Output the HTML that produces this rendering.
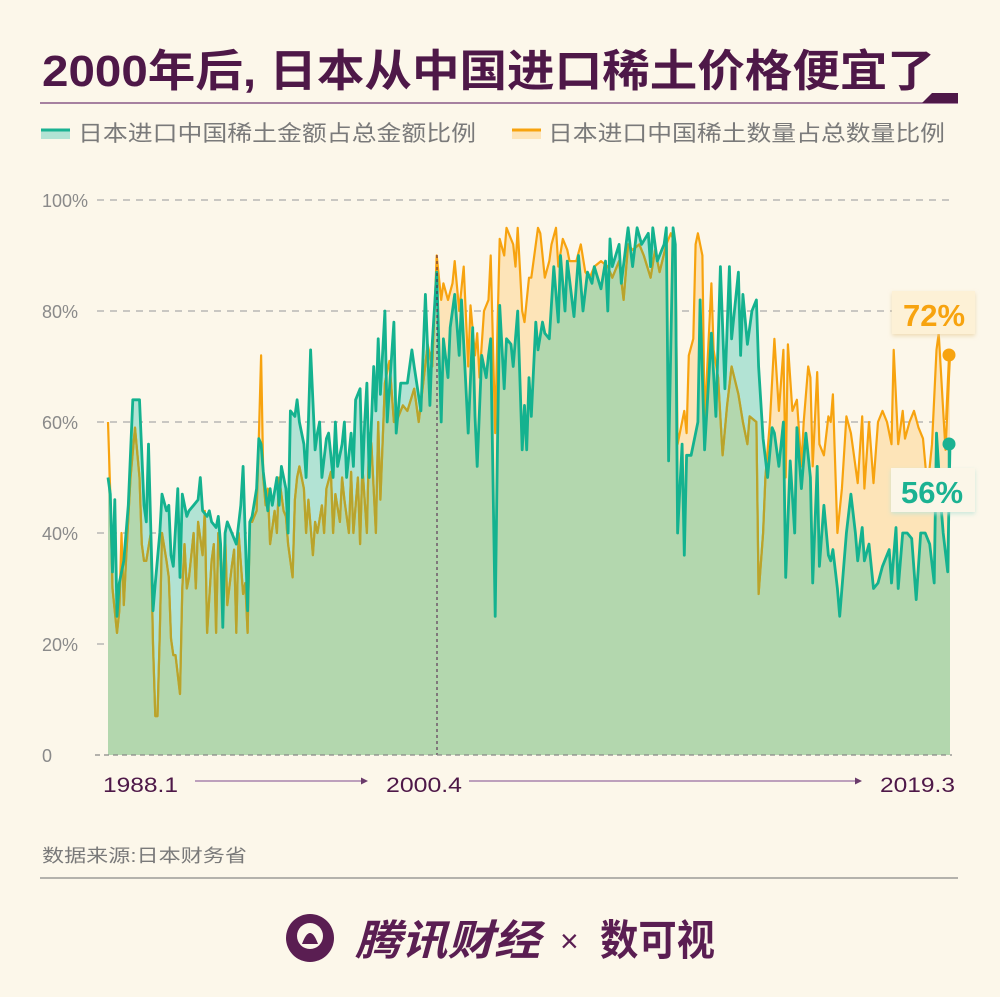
<!DOCTYPE html>
<html><head><meta charset="utf-8"><style>
html,body{margin:0;padding:0;background:#fcf7ea;}
svg{display:block;font-family:"Liberation Sans","Noto Sans CJK SC",sans-serif;}
</style></head><body>
<svg id="chart" width="1000" height="997" viewBox="0 0 1000 997" xmlns="http://www.w3.org/2000/svg">
<defs>
<filter id="sh" x="-20%" y="-20%" width="140%" height="150%"><feDropShadow dx="0" dy="2" stdDeviation="2" flood-color="#e8cf9c" flood-opacity="0.7"/></filter>
<filter id="sh2" x="-20%" y="-20%" width="140%" height="150%"><feDropShadow dx="0" dy="2" stdDeviation="2" flood-color="#bfe4d8" flood-opacity="0.8"/></filter>
</defs>
<rect width="1000" height="997" fill="#fcf7ea"/>
<text x="42" y="86" font-size="44" font-weight="bold" fill="#4e1848" textLength="893" lengthAdjust="spacingAndGlyphs">2000年后, 日本从中国进口稀土价格便宜了</text>
<line x1="40" y1="103" x2="958" y2="103" stroke="#8a5a88" stroke-width="1.5"/>
<polygon points="922,103 932,93 958,93 958,103" fill="#4e1848"/>
<g>
<rect x="41" y="130" width="29" height="9" fill="#b2e3d4"/><line x1="41" y1="130" x2="70" y2="130" stroke="#1bb292" stroke-width="3"/>
<text x="78" y="141" font-size="22" fill="#7a7a7a" textLength="398" lengthAdjust="spacingAndGlyphs">日本进口中国稀土金额占总金额比例</text>
</g>
<g>
<rect x="512" y="130" width="29" height="9" fill="#fde4b8"/><line x1="512" y1="130" x2="541" y2="130" stroke="#f7a30f" stroke-width="3"/>
<text x="548" y="141" font-size="22" fill="#7a7a7a" textLength="397" lengthAdjust="spacingAndGlyphs">日本进口中国稀土数量占总数量比例</text>
</g>
<g id="grid"></g>
<g id="areas"></g>
<g id="lines"></g>
<line x1="437" y1="255" x2="437" y2="755" stroke="#4e1848" stroke-width="1" stroke-dasharray="3,3"/>
<line x1="95" y1="755" x2="952" y2="755" stroke="#888" stroke-width="1.2" stroke-dasharray="5,4"/>
<g id="labels"></g>
<g>
<text x="103" y="792" font-size="21" fill="#4e1848" textLength="75" lengthAdjust="spacingAndGlyphs">1988.1</text>
<line x1="195" y1="781" x2="364" y2="781" stroke="#a884ad" stroke-width="1.5"/>
<polygon points="368,781 361,777.5 361,784.5" fill="#6a3a6a"/>
<text x="386" y="792" font-size="21" fill="#4e1848" textLength="76" lengthAdjust="spacingAndGlyphs">2000.4</text>
<line x1="469" y1="781" x2="858" y2="781" stroke="#a884ad" stroke-width="1.5"/>
<polygon points="862,781 855,777.5 855,784.5" fill="#6a3a6a"/>
<text x="880" y="792" font-size="21" fill="#4e1848" textLength="75" lengthAdjust="spacingAndGlyphs">2019.3</text>
</g>
<text x="42" y="862" font-size="18" fill="#7a7a7a" textLength="205" lengthAdjust="spacingAndGlyphs">数据来源:日本财务省</text>
<line x1="40" y1="878" x2="958" y2="878" stroke="#888" stroke-width="1.2"/>
<g>
<circle cx="310" cy="938" r="24" fill="#5a1e52"/>
<circle cx="310" cy="936" r="13" fill="#fcf7ea"/>
<path d="M302 944 Q310 922 318 944 Z" fill="#5a1e52"/>
<text x="355" y="955" font-size="42" font-weight="bold" font-style="italic" fill="#5a1e52" textLength="185" lengthAdjust="spacingAndGlyphs">腾讯财经</text>
<text x="560" y="952" font-size="32" fill="#5a1e52">×</text>
<text x="600" y="955" font-size="42" font-weight="bold" fill="#5a1e52" textLength="115" lengthAdjust="spacingAndGlyphs">数可视</text>
</g>
<g>
<line x1="949" y1="355" x2="946" y2="420" stroke="#f7a30f" stroke-width="2"/>
<circle cx="949" cy="355" r="6.5" fill="#f7a30f"/>
<rect x="892" y="291" width="83" height="43" fill="#fdf1d6" filter="url(#sh)"/>
<text x="934" y="326" font-size="31" font-weight="bold" fill="#f7a30f" text-anchor="middle">72%</text>
</g>
<g>
<line x1="949" y1="444" x2="949" y2="480" stroke="#1bb292" stroke-width="2.5"/>
<circle cx="949" cy="444" r="6.5" fill="#1bb292"/>
<rect x="891" y="468" width="84" height="44" fill="#fbf6e8" filter="url(#sh2)"/>
<text x="932" y="503" font-size="31" font-weight="bold" fill="#1bb292" text-anchor="middle">56%</text>
</g>
</svg>
<script>
// months since 1988.1 (index 0) and shares (%)
const amountMonths=[0,1,2,3,4,5,7,9,11,14,16,17,18,20,21,23,24,26,27,28,29,31,32,33,35,36,38,40,41,42,44,45,46,48,49,50,51,52,53,55,57,59,60,62,63,64,66,67,68,69,71,72,73,75,76,77,79,80,81,83,84,85,87,88,89,90,92,93,94,95,97,98,100,101,102,104,105,106,108,109,110,112,113,114,115,116,118,119,120,121,123,124,127,128,130,133,135,136,139,141,143,144,146,148,149,151,152,154,156,157,159,160,162,163,164,166,168,169,170,172,173,174,176,177,179,180,182,184,185,186,187,188,190,191,193,194,196,198,200,201,203,204,207,209,211,213,215,216,219,221,222,223,224,227,228,231,233,235,237,240,241,242,244,246,247,248,249,251,252,253,255,256,257,259,262,263,265,268,270,272,274,276,277,280,281,282,284,286,288,289,291,293,295,296,298,300,301,303,305,306,308,310,312,313,315,316,318,320,321,322,324,325,328,330,332,333,335,336,338,340,342,344,347,348,350,351,353,355,357,359,361,363,365,367,368,370,371,373,374];
const amountShare=[50,47,33,46,25,31,35,45,64,64,45,42,56,26,31,40,47,44,45,36,34,48,32,47,43,44,45,46,50,44,43,44,42,41,43,38,23,40,42,40,38,45,52,26,42,43,48,57,56,51,44,48,45,50,45,52,48,40,62,61,64,60,56,50,60,73,55,58,60,50,57,58,50,60,52,56,60,50,58,52,64,66,50,60,67,50,70,62,75,65,80,60,78,58,67,67,73,70,62,83,63,74,87,60,75,68,77,83,72,82,66,58,77,61,52,72,68,72,75,25,56,81,66,75,74,70,80,55,63,55,68,61,78,73,78,76,75,88,78,90,80,89,79,90,80,87,85,88,84,89,80,93,88,92,85,95,88,95,92,94,88,95,89,91,92,95,53,95,92,40,56,36,54,54,60,82,55,76,61,88,66,88,75,87,72,83,74,80,82,70,57,50,59,58,52,60,32,53,40,59,48,58,50,31,52,34,45,36,35,37,30,25,40,47,40,35,41,35,38,30,31,34,37,31,41,30,40,40,39,28,40,40,38,31,58,45,40,33,56];
const quantityMonths=[0,1,2,4,5,6,7,8,10,12,14,15,16,17,19,20,21,22,23,24,26,27,28,29,30,32,33,34,35,36,38,39,40,42,43,44,46,47,48,49,51,52,53,55,56,57,58,60,61,62,63,64,66,67,68,69,70,71,72,74,75,76,78,79,80,82,83,84,85,87,88,89,91,92,93,95,96,97,99,100,101,103,104,105,107,108,109,111,112,113,115,116,117,119,120,121,123,125,127,128,131,133,136,138,142,144,146,148,149,151,153,154,156,158,160,161,163,164,165,167,169,170,172,173,174,176,177,180,181,182,184,185,187,188,191,192,194,196,197,199,200,202,204,205,208,210,212,214,216,219,222,224,227,229,231,233,236,238,241,243,245,248,250,252,253,256,257,258,260,261,262,264,265,268,269,271,273,275,277,280,282,284,285,288,289,291,292,294,296,298,300,301,302,304,306,308,309,311,312,313,315,316,318,320,321,322,324,326,328,330,331,333,335,336,338,340,342,344,346,348,349,351,353,354,356,358,360,362,364,366,368,369,371,372,374];
const quantityShare=[60,47,30,22,26,40,27,35,50,59,50,38,35,35,40,20,7,7,22,40,35,32,21,18,18,11,30,38,30,32,40,30,42,36,44,22,35,38,22,40,30,40,27,34,37,22,40,29,31,22,42,42,44,57,72,50,45,48,38,44,40,50,44,43,38,32,46,50,52,48,40,46,36,42,40,45,40,48,51,40,47,42,50,46,40,51,40,50,38,52,40,58,56,40,60,46,67,71,60,60,63,62,66,60,74,70,90,82,85,82,85,89,80,88,70,81,72,76,68,80,82,90,58,77,93,90,95,92,88,95,80,78,86,86,95,94,86,89,92,95,88,93,91,89,89,92,87,86,88,89,88,86,89,82,92,91,92,90,86,91,87,92,94,92,56,62,58,72,75,92,94,90,60,85,73,68,54,63,70,65,60,56,61,60,29,40,50,60,75,62,73,50,74,62,64,52,60,70,68,52,69,56,54,61,60,65,40,48,61,58,55,49,61,48,60,49,60,62,60,56,73,56,62,57,60,62,59,57,48,56,73,76,62,55,72];
const yTicks=[0,20,40,60,80,100];
const yTickLabels=["0","20%","40%","60%","80%","100%"];

const NS="http://www.w3.org/2000/svg";
const X0=108,X1=950,MMAX=374,Y0=755,Y100=200;
function xScale(m){return X0+(X1-X0)*m/MMAX;}
function yScale(v){return Y0-(Y0-Y100)*v/100;}
function mk(tag,attrs,parent){const e=document.createElementNS(NS,tag);for(const k in attrs)e.setAttribute(k,attrs[k]);parent.appendChild(e);return e;}
function linePts(ms,vs){return ms.map((m,i)=>xScale(m).toFixed(1)+","+yScale(vs[i]).toFixed(1)).join(" ");}
function areaPath(ms,vs){let d="M"+xScale(ms[0]).toFixed(1)+","+Y0;ms.forEach((m,i)=>{d+=" L"+xScale(m).toFixed(1)+","+yScale(vs[i]).toFixed(1);});d+=" L"+xScale(ms[ms.length-1]).toFixed(1)+","+Y0+" Z";return d;}

const grid=document.getElementById('grid'),labels=document.getElementById('labels');
yTicks.forEach((t,i)=>{
  if(t>0){const g=mk('line',{x1:97,y1:yScale(t),x2:950,y2:yScale(t),stroke:'#aaa','stroke-width':1.2,'stroke-dasharray':'7,6'},grid);
  
  }
  const lb=mk('text',{x:42,y:yScale(t)+7,'font-size':18,fill:'#8a8a8a'},labels);
  lb.textContent=yTickLabels[i];
  
  
});

const defs=document.querySelector('defs');
const cp=mk('clipPath',{id:'qclip'},defs);
mk('path',{d:areaPath(quantityMonths,quantityShare)},cp);
const cp2=mk('clipPath',{id:'aclip'},defs);
mk('path',{d:areaPath(amountMonths,amountShare)},cp2);

const areas=document.getElementById('areas');
const qa=mk('path',{d:areaPath(quantityMonths,quantityShare),fill:'#fde4b8'},areas);


const aa=mk('path',{d:areaPath(amountMonths,amountShare),fill:'#b2e3d4'},areas);


const ov=mk('path',{d:areaPath(amountMonths,amountShare),fill:'#b3d7ae','clip-path':'url(#qclip)'},areas);



const lines=document.getElementById('lines');
const ql=mk('polyline',{points:linePts(quantityMonths,quantityShare),fill:'none',stroke:'#f7a30f','stroke-width':2.2,'stroke-linejoin':'round'},lines);


const qlo=mk('polyline',{points:linePts(quantityMonths,quantityShare),fill:'none',stroke:'#b8a42c','stroke-width':2.2,'stroke-linejoin':'round','clip-path':'url(#aclip)'},lines);


const al=mk('polyline',{points:linePts(amountMonths,amountShare),fill:'none',stroke:'#14b28f','stroke-width':2.8,'stroke-linejoin':'round'},lines);


</script>
</body></html>
